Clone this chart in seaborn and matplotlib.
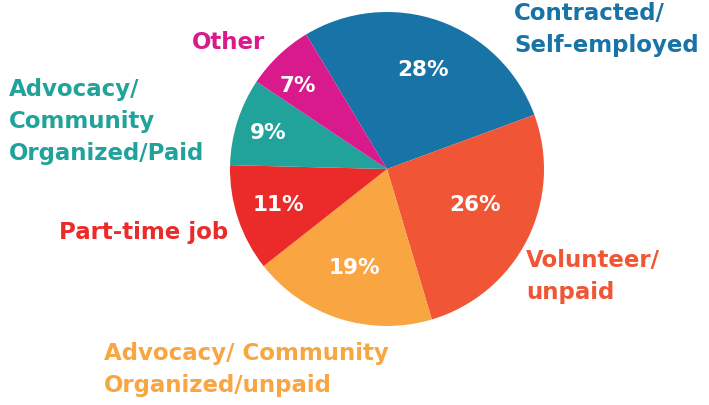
import matplotlib
matplotlib.use("Agg")
import matplotlib.pyplot as plt
import seaborn as sns

# data
categories = ["Contracted/\nSelf-employed", "Volunteer/\nunpaid",
              "Advocacy/ Community\nOrganized/unpaid", "Part-time job",
              "Advocacy/\nCommunity\nOrganized/Paid", "Other"]
shares = [28, 26, 19, 11, 9, 7]
colors = ["#1874a7", "#f05636", "#f9a541", "#ea2b2a", "#21a39c", "#d91a8c"]

sns.set_theme(style="white")
plt.rcParams["font.family"] = ["DejaVu Sans"]

W, H = 709, 406
cx, cy, R = 387, 170, 157


def px(x, y):
    # pixel position -> data coordinates (pie radius = 1)
    return (x - cx) / R, (cy - y) / R


fig = plt.figure(figsize=(W / 100, H / 100), dpi=100)
ax = fig.add_axes([0, 0, 1, 1])
ax.pie(shares, colors=colors, startangle=121, counterclock=False,
       radius=1, wedgeprops=dict(linewidth=0))
ax.set_xlim(-cx / R, (W - cx) / R)
ax.set_ylim(-(H - cy) / R, cy / R)
ax.set_aspect("equal")
ax.axis("off")

# percentage labels inside slices
pct_pos = [(423, 70), (475, 205), (354, 268), (278, 205), (268, 133), (298, 86)]
for s, (x, y) in zip(shares, pct_pos):
    ax.text(*px(x, y), f"{s}%", color="white", fontsize=15.5, fontweight="bold",
            ha="center", va="center")

# category labels outside
lab_pos = [(514, 30, "left"), (526, 277, "left"), (104, 370, "left"),
           (228, 233, "right"), (9, 122, "left"), (265, 43, "right")]
for name, col, (x, y, ha) in zip(categories, colors, lab_pos):
    ax.text(*px(x, y), name, color=col, fontsize=16.5, fontweight="bold",
            ha=ha, va="center", linespacing=1.5)

fig.savefig("out.png", dpi=100)
